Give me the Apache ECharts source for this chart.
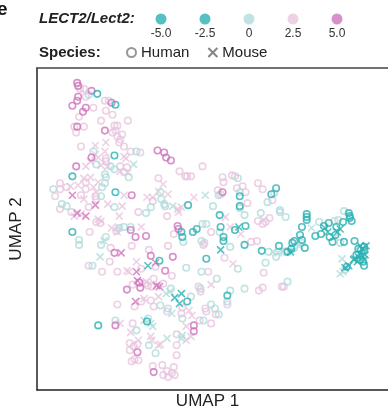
<!DOCTYPE html>
<html>
<head>
<meta charset="utf-8">
<script src="https://cdn.jsdelivr.net/npm/echarts@6/dist/echarts.min.js"></script>
<style>
html, body {margin: 0; padding: 0; background: #fff;}
#chart {width: 388px; height: 415px;}
</style>
</head>
<body>
<div id="chart"></div>
<script>
// UMAP embedding, [UMAP 1, UMAP 2], grouped by species and LECT2/Lect2 level
const humanTeal = [[63,298],[82,287],[81,236],[37,215],[82,199],[158,186],[212,195],[212,185],[191,176],[218,165],[192,164],[207,161],[195,154],[195,150],[250,203],[245,197],[217,146],[177,132],[282,177],[282,174],[282,171],[300,165],[291,155],[297,157],[305,168],[313,164],[312,156],[320,169],[326,178],[327,175],[327,173],[329,170],[306,154],[309,149],[321,149],[332,150],[342,144],[336,142],[342,140],[341,129],[342,125],[338,131],[334,136],[324,124],[277,164],[275,156],[277,151],[280,143],[269,150],[267,148],[266,142],[253,145],[235,140],[262,139],[199,95],[128,130],[151,159],[152,154],[163,159],[167,162],[37,159],[64,65],[157,89],[115,69]];
const mouseTeal = [[211,164],[192,141],[265,139],[301,163],[304,159],[314,159],[317,162],[338,145],[344,145],[340,142],[338,138],[340,135],[343,136],[336,134],[332,132],[342,131],[335,129],[331,131],[326,125],[322,123],[116,125],[144,93],[151,97],[149,87]];
const humanLightTeal = [[54,297],[59,240],[104,240],[62,227],[77,225],[81,222],[96,214],[71,217],[72,214],[71,208],[68,204],[17,202],[67,195],[81,184],[26,187],[31,185],[114,178],[119,184],[129,199],[134,185],[184,185],[173,167],[177,167],[98,164],[133,187],[130,192],[190,196],[210,213],[212,199],[212,183],[248,198],[241,189],[254,181],[254,179],[260,174],[234,178],[217,176],[191,159],[172,150],[202,144],[295,169],[311,170],[321,180],[315,171],[277,148],[269,143],[259,139],[250,134],[242,139],[239,128],[317,148],[322,121],[44,151],[44,146],[72,154],[67,146],[86,163],[91,164],[58,125],[153,149],[156,123],[172,119],[140,102],[161,94],[171,102],[129,85],[137,82],[182,86],[186,82],[174,70],[152,72],[82,70],[104,60],[117,45],[124,37],[116,72],[210,122],[188,112],[202,100],[199,89],[190,76],[217,102],[262,109]];
const mouseLightTeal = [[101,227],[142,185],[176,196],[287,163],[311,154],[319,132],[320,119],[317,117],[252,138],[247,139],[274,145],[257,140],[70,150],[66,134],[135,97],[139,99],[141,77],[152,55],[151,52],[136,52],[112,70],[119,67],[121,64]];
const humanPink = [[45,303],[49,303],[51,295],[44,275],[59,284],[71,291],[75,291],[72,281],[79,277],[67,271],[95,271],[39,265],[41,259],[49,265],[81,266],[84,266],[82,261],[79,259],[84,255],[87,252],[89,257],[86,249],[46,245],[72,233],[91,245],[98,240],[108,239],[87,225],[94,224],[149,220],[155,215],[157,215],[161,215],[173,225],[127,213],[72,230],[91,219],[51,209],[24,208],[24,202],[19,195],[31,204],[51,202],[46,196],[61,195],[62,192],[54,184],[24,182],[36,179],[66,168],[62,169],[106,179],[121,190],[136,175],[189,201],[195,209],[194,214],[204,216],[207,215],[143,157],[192,197],[209,203],[215,205],[218,199],[220,188],[231,208],[236,202],[246,191],[231,170],[236,167],[243,173],[239,169],[182,159],[175,148],[224,149],[230,150],[196,133],[55,159],[83,160],[99,145],[77,143],[76,129],[54,125],[68,119],[84,119],[109,122],[117,141],[124,124],[137,145],[141,115],[174,146],[179,119],[113,107],[100,106],[116,105],[120,104],[122,112],[132,107],[169,104],[109,89],[84,86],[119,90],[122,84],[136,79],[152,83],[151,77],[176,82],[177,79],[170,70],[182,67],[100,67],[105,46],[101,44],[97,47],[97,40],[102,31],[106,30],[99,29],[121,24],[131,25],[136,19],[132,15],[141,17],[143,23],[144,15],[137,13],[146,56],[146,45],[146,35],[102,84],[199,86],[171,99],[187,76],[232,100],[236,103],[256,104],[258,104],[237,118]];
const mousePink = [[61,246],[72,249],[61,237],[64,234],[71,240],[91,235],[93,233],[56,230],[51,225],[67,226],[74,225],[87,220],[95,219],[56,214],[49,213],[64,209],[35,205],[43,206],[59,204],[62,199],[49,192],[91,196],[89,185],[74,187],[46,177],[39,175],[64,172],[67,170],[86,175],[115,194],[127,200],[132,207],[164,194],[85,164],[137,197],[121,194],[147,182],[151,184],[148,179],[197,174],[202,164],[237,171],[213,157],[205,127],[182,106],[78,163],[84,159],[109,164],[94,120],[96,119],[104,129],[127,94],[112,92],[159,80],[162,75],[87,67],[98,58],[106,50],[119,54],[127,45],[156,64],[161,54],[156,50],[129,46],[120,50],[114,109]];
const humanMagenta = [[42,309],[43,306],[57,301],[43,295],[42,291],[37,286],[51,284],[48,280],[78,289],[42,265],[71,261],[57,234],[41,225],[126,241],[133,239],[135,234],[140,231],[99,196],[147,165],[148,162],[194,199],[98,161],[103,154],[114,155],[81,138],[119,135],[134,120],[142,134],[107,108],[108,103],[94,101],[82,65],[164,65],[164,59],[105,38],[122,18]];
const mouseMagenta = [[37,196],[61,186],[42,178],[51,175],[88,138],[105,110],[125,105],[128,104],[103,89],[124,128],[104,119]];

const levelLabels = ['-5.0', '-2.5', '0', '2.5', '5.0'];
const speciesNames = ['Human', 'Mouse'];

const TEAL = '#2ab0b1', LTEAL = '#b3dcdc', PINK = '#e9c6df', MAGENTA = '#d074bc';
const levelColors = [TEAL, TEAL, LTEAL, PINK, MAGENTA];
const FONT = '"Liberation Sans", Arial, sans-serif';
const CROSS = 'path://M0,0L10,10M10,0L0,10';
const FRAME = {show: true, lineStyle: {color: '#222', width: 1.5}};

const chart = echarts.init(document.getElementById('chart'));

// draw order: pale points first, strong colours on top
const groups = [
	[humanPink, mousePink, PINK],
	[humanLightTeal, mouseLightTeal, LTEAL],
	[humanMagenta, mouseMagenta, MAGENTA],
	[humanTeal, mouseTeal, TEAL],
];
const pointSeries = [];
groups.forEach(([hum, mou, color]) => {
	pointSeries.push({
		name: speciesNames[0], type: 'scatter', data: hum,
		symbol: 'circle', symbolSize: 6.5,
		itemStyle: {color: 'transparent', borderColor: color, borderWidth: 1.6}
	});
	pointSeries.push({
		name: speciesNames[1], type: 'scatter', data: mou,
		symbol: CROSS, symbolSize: 7,
		itemStyle: {color: 'transparent', borderColor: color, borderWidth: 1.6}
	});
});

const hidden = {axisTick: {show: false}, axisLabel: {show: false}, splitLine: {show: false}};

chart.setOption({
	animation: false,
	grid: [
		{left: 31, right: -10, top: 68, bottom: 23},
		{left: 139, width: 220, top: 12, height: 14}
	],
	xAxis: [
		{
			gridIndex: 0, type: 'value', min: 0, max: 367, position: 'bottom',
			axisLine: FRAME, ...hidden,
			name: 'UMAP 1', nameLocation: 'middle', nameGap: 3,
			nameTextStyle: {fontFamily: FONT, fontSize: 17, color: '#222', padding: [0, 0, 0, -10]}
		},
		{
			gridIndex: 1, type: 'category', data: levelLabels,
			axisLine: {show: false}, axisTick: {show: false}, splitLine: {show: false},
			axisLabel: {margin: 2, fontFamily: FONT, fontSize: 12, color: '#333'}
		},
		{
			gridIndex: 0, type: 'value', min: 0, max: 367, position: 'top',
			axisLine: {show: true, lineStyle: {color: '#444', width: 1.5}}, ...hidden
		}
	],
	yAxis: [
		{
			gridIndex: 0, type: 'value', min: 0, max: 324,
			axisLine: FRAME, ...hidden,
			name: 'UMAP 2', nameLocation: 'middle', nameGap: 12, nameRotate: 90,
			nameTextStyle: {fontFamily: FONT, fontSize: 17, color: '#222'}
		},
		{gridIndex: 1, type: 'value', min: -1, max: 1, show: false}
	],
	legend: {
		data: [
			{name: 'Human', icon: 'circle', itemStyle: {color: 'transparent', borderColor: '#7c7c7c', borderWidth: 2}},
			{name: 'Mouse', icon: CROSS, itemStyle: {color: 'transparent', borderColor: '#666', borderWidth: 2}}
		],
		left: 126, top: 45, padding: 0,
		itemWidth: 9, itemHeight: 9, itemGap: 18,
		selectedMode: false,
		textStyle: {fontFamily: FONT, fontSize: 15, color: '#222'}
	},
	graphic: [
		{type: 'text', left: -3, top: 0, style: {text: 'e', font: 'bold 19px ' + FONT, fill: '#111'}},
		{type: 'text', left: 39, top: 11, style: {text: 'LECT2/Lect2:', font: 'italic bold 15px ' + FONT, fill: '#222'}},
		{type: 'text', left: 39, top: 45, style: {text: 'Species:', font: 'bold 15px ' + FONT, fill: '#222'}}
	],
	series: [
		...pointSeries,
		{
			name: 'level', type: 'scatter', xAxisIndex: 1, yAxisIndex: 1,
			symbolSize: 11, silent: true,
			data: levelLabels.map((l, i) => ({value: [i, 0], itemStyle: {color: levelColors[i]}}))
		}
	]
});
</script>
</body>
</html>
